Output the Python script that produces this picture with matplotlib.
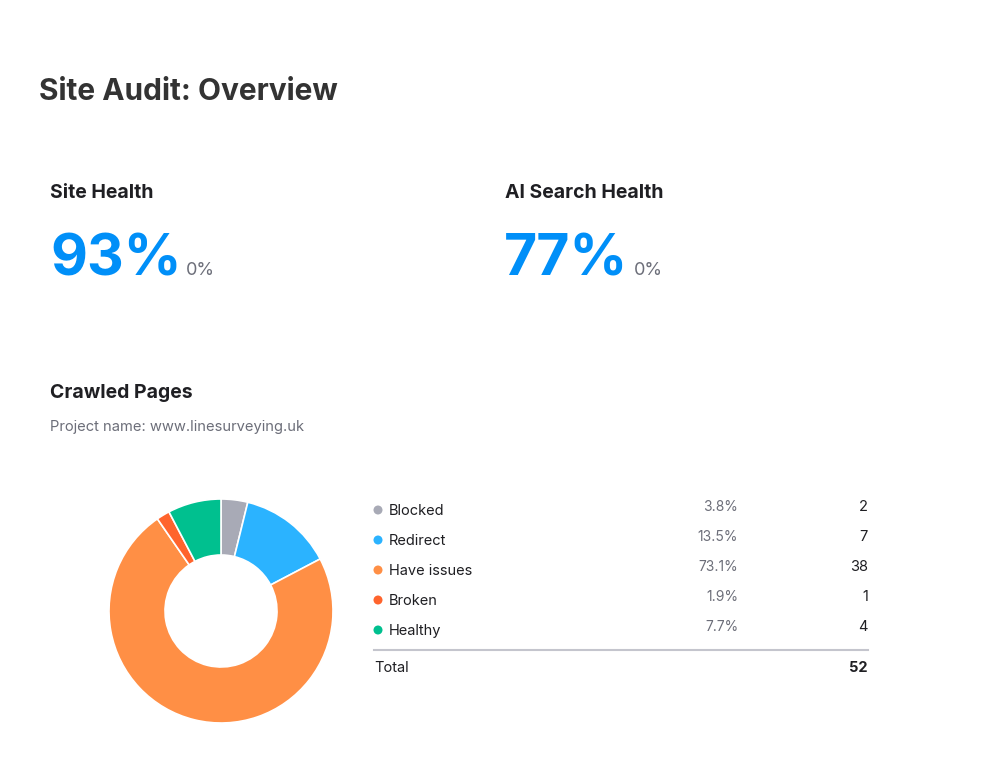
import matplotlib.pyplot as plt

W, H = 987, 758

categories = ["Blocked", "Redirect", "Have issues", "Broken", "Healthy"]
counts = [2, 7, 38, 1, 4]
percents = ["3.8%", "13.5%", "73.1%", "1.9%", "7.7%"]
colors = ["#a8aab6", "#2bb3ff", "#ff8f45", "#ff642d", "#00c08f"]
total = 52

site_health = "93%"
ai_health = "77%"
health_change = "0%"
project = "www.linesurveying.uk"

plt.rcParams['font.family'] = ['Inter', 'DejaVu Sans']

fig = plt.figure(figsize=(W / 100, H / 100), dpi=100)
fig.patch.set_facecolor("white")


def txt(x, y, s, **kw):
    # x, y in pixels from the top left, y is the baseline
    fig.text(x / W, 1 - y / H, s, va="baseline", **kw)


txt(39, 100, "Site Audit: Overview", fontsize=21.5, fontweight="bold", color="#333333")

txt(50, 198, "Site Health", fontsize=14, fontweight="bold", color="#1f1f23")
txt(50, 275, site_health, fontsize=41, fontweight="bold", color="#008ff8")
txt(186, 275, health_change, fontsize=13, color="#6c6e79")

txt(505, 198, "AI Search Health", fontsize=14, fontweight="bold", color="#1f1f23")
txt(504, 275, ai_health, fontsize=41, fontweight="bold", color="#008ff8")
txt(634, 275, health_change, fontsize=13, color="#6c6e79")

txt(50, 398, "Crawled Pages", fontsize=14, fontweight="bold", color="#1f1f23")
txt(50, 431, "Project name: " + project, fontsize=10.6, color="#6c6e79")

# donut
ax = fig.add_axes([109 / W, (H - 723) / H, 224 / W, 224 / H])
ax.pie(counts, colors=colors, startangle=90, counterclock=False, radius=1,
       wedgeprops=dict(width=0.5, edgecolor="white", linewidth=1.2))
ax.set_xlim(-1.0, 1.0)
ax.set_ylim(-1.0, 1.0)
ax.set_aspect("equal")
ax.axis("off")

# legend table
lax = fig.add_axes([0, 0, 1, 1])
lax.set_xlim(0, W)
lax.set_ylim(H, 0)
lax.axis("off")
for i, (name, pct, n, c) in enumerate(zip(categories, percents, counts, colors)):
    y = 510 + i * 30
    lax.scatter([378], [y], s=42, color=c, edgecolors="none")
    lax.text(389, y + 5, name, fontsize=10.5, color="#1f1f23", va="baseline")
    lax.text(738, y + 1, pct, fontsize=10, color="#6c6e79", va="baseline", ha="right")
    lax.text(868, y + 1, str(n), fontsize=10.5, color="#1f1f23", va="baseline", ha="right")

lax.plot([374, 868], [650, 650], color="#c4c5cd", linewidth=1.5)
lax.text(374, 672, "Total", fontsize=10.5, color="#1f1f23", va="baseline")
lax.text(868, 672, str(total), fontsize=10.5, fontweight="bold", color="#1f1f23",
         va="baseline", ha="right")

fig.savefig("out.png", dpi=100, facecolor="white")
